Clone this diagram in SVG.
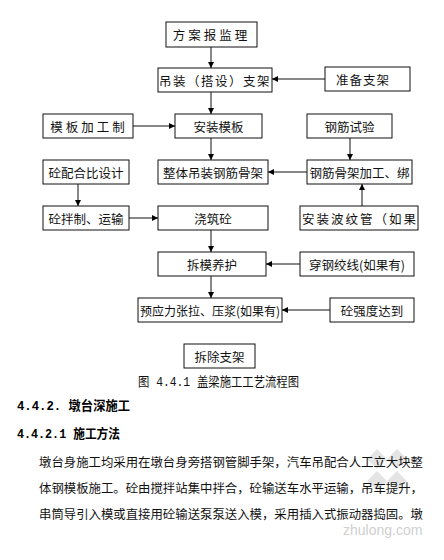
<svg xmlns="http://www.w3.org/2000/svg" width="444" height="560" viewBox="0 0 444 560">
<defs>
<marker id="ah" viewBox="0 0 8 8" refX="8" refY="4" markerWidth="6" markerHeight="6" orient="auto" markerUnits="userSpaceOnUse">
<path d="M0,0 L8,4 L0,8 z" fill="#000"/>
</marker>
<style>
.bx{fill:#fff;stroke:#111;stroke-width:1}
.t{font-family:"Noto Sans CJK SC","Liberation Sans",sans-serif;font-size:12.5px;fill:#111;text-anchor:middle;dominant-baseline:central}
.c line{stroke:#111;stroke-width:1;marker-end:url(#ah)}
.cap{font-family:"Liberation Mono","Noto Sans CJK SC",monospace;font-size:13px;fill:#111}
.h{font-family:"Liberation Mono","Noto Sans CJK SC",monospace;font-size:13px;font-weight:bold;fill:#000}
.p{font-family:"Noto Sans CJK SC",sans-serif;font-size:12.4px;fill:#111}
.wm{fill:#e4e4e4}
</style>
</defs>
<rect width="444" height="560" fill="#fff"/>
<g class="c" id="connectors">
<line x1="211" y1="47" x2="211" y2="68"/>
<line x1="325" y1="79" x2="272" y2="79"/>
<line x1="211" y1="92" x2="211" y2="114"/>
<line x1="133" y1="126" x2="175" y2="126"/>
<line x1="211" y1="138" x2="211" y2="160"/>
<line x1="350" y1="138" x2="350" y2="160"/>
<line x1="307" y1="172" x2="268" y2="172"/>
<line x1="78" y1="184" x2="78" y2="206"/>
<line x1="129" y1="218" x2="158" y2="218"/>
<line x1="362" y1="206" x2="362" y2="184"/>
<line x1="211" y1="230" x2="211" y2="252"/>
<line x1="300" y1="264" x2="266" y2="264"/>
<line x1="211" y1="276" x2="211" y2="298"/>
<line x1="330" y1="310" x2="282" y2="310"/>
</g>
<g id="n1"><rect class="bx" x="166" y="22" width="91" height="25"/><text class="t" x="211.5" y="34.5" letter-spacing="3">方案报监理</text></g>
<g id="n2"><rect class="bx" x="158" y="68" width="114" height="24"/><text class="t" x="215" y="80" letter-spacing="1.5">吊装（搭设）支架</text></g>
<g id="n3"><rect class="bx" x="325" y="67" width="85" height="24"/><text class="t" x="363" y="79" letter-spacing="1">准备支架</text></g>
<g id="n4"><rect class="bx" x="43" y="114" width="90" height="24"/><text class="t" x="89" y="126" letter-spacing="3">模板加工制</text></g>
<g id="n5"><rect class="bx" x="175" y="114" width="87" height="24"/><text class="t" x="218.5" y="126">安装模板</text></g>
<g id="n6"><rect class="bx" x="307" y="114" width="85" height="24"/><text class="t" x="349.5" y="126">钢筋试验</text></g>
<g id="n7"><rect class="bx" x="43" y="160" width="86" height="24"/><text class="t" x="86" y="172">砼配合比设计</text></g>
<g id="n8"><rect class="bx" x="158" y="160" width="110" height="24"/><text class="t" x="213" y="172">整体吊装钢筋骨架</text></g>
<g id="n9"><rect class="bx" x="307" y="160" width="105" height="24"/><text class="t" x="359.5" y="172">钢筋骨架加工、绑</text></g>
<g id="n10"><rect class="bx" x="43" y="206" width="86" height="24"/><text class="t" x="86" y="218">砼拌制、运输</text></g>
<g id="n11"><rect class="bx" x="158" y="206" width="110" height="24"/><text class="t" x="213" y="218">浇筑砼</text></g>
<g id="n12"><rect class="bx" x="300" y="206" width="118" height="24"/><text class="t" x="360" y="218" letter-spacing="2">安装波纹管（如果</text></g>
<g id="n13"><rect class="bx" x="158" y="252" width="108" height="24"/><text class="t" x="212" y="264">拆模养护</text></g>
<g id="n14"><rect class="bx" x="300" y="252" width="114" height="24"/><text class="t" x="357" y="264">穿钢绞线(如果有)</text></g>
<g id="n15"><rect class="bx" x="138" y="298" width="144" height="24"/><text class="t" x="210" y="310" font-size="12" textLength="140" lengthAdjust="spacingAndGlyphs">预应力张拉、压浆(如果有)</text></g>
<g id="n16"><rect class="bx" x="330" y="298" width="84" height="24"/><text class="t" x="372" y="310">砼强度达到</text></g>
<g id="n17"><rect class="bx" x="184" y="344" width="71" height="24"/><text class="t" x="219.5" y="356">拆除支架</text></g>
<text class="cap" x="138" y="386" textLength="161" lengthAdjust="spacingAndGlyphs">图 4.4.1 盖梁施工工艺流程图</text>
<text class="h" x="17" y="410" textLength="113" lengthAdjust="spacingAndGlyphs">4.4.2. 墩台深施工</text>
<text class="h" x="17" y="438" textLength="103" lengthAdjust="spacingAndGlyphs">4.4.2.1 施工方法</text>
<g id="watermark-logo">
<rect class="wm" x="370" y="452" width="14" height="14" transform="rotate(45 377 459)"/>
<rect class="wm" x="390" y="452" width="14" height="14" transform="rotate(45 397 459)"/>
<rect class="wm" x="370" y="474" width="14" height="14" transform="rotate(45 377 481)"/>
<rect class="wm" x="390" y="474" width="14" height="14" transform="rotate(45 397 481)"/>
</g>
<text class="p" x="39" y="467" textLength="384" lengthAdjust="spacing">墩台身施工均采用在墩台身旁搭钢管脚手架，汽车吊配合人工立大块整</text>
<text class="p" x="39" y="493" textLength="384" lengthAdjust="spacing">体钢模板施工。砼由搅拌站集中拌合，砼输送车水平运输，吊车提升，</text>
<text class="p" x="39" y="519" textLength="384" lengthAdjust="spacing">串筒导引入模或直接用砼输送泵泵送入模，采用插入式振动器捣固。墩</text>
<text x="343" y="535" font-family="Liberation Sans, sans-serif" font-size="14" fill="#d0d0d0">zhulong.com</text>
</svg>
